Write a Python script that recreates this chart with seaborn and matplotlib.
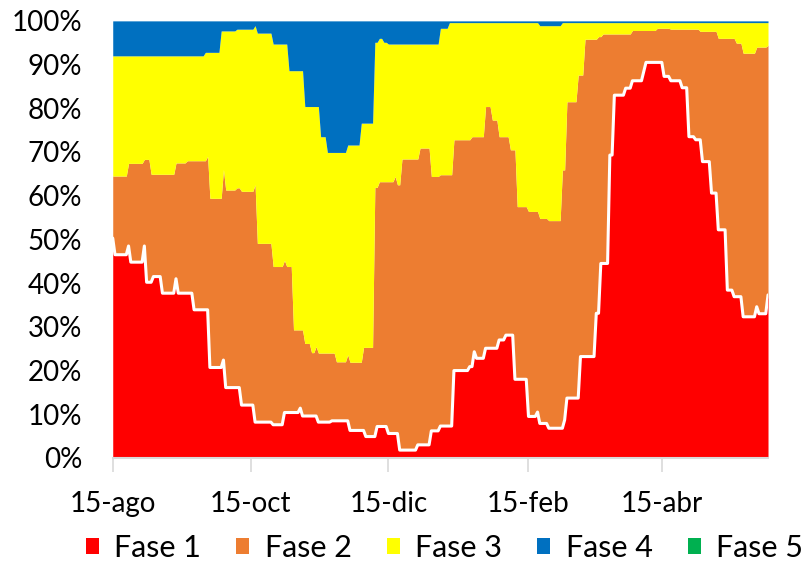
import numpy as np
import pandas as pd
import matplotlib.pyplot as plt
from matplotlib.patches import Patch
import seaborn as sns

# daily series from 15-ago-2020, 291 days
start = "2020-08-15"
n_days = 291

# step levels: day offset where a level starts, cumulative %
top1_days = [0, 1, 7, 8, 14, 15, 18, 22, 28, 29, 36, 43, 49, 50, 57, 63, 71, 76, 83, 84,
             91, 97, 105, 112, 117, 122, 127, 135, 141, 145, 151, 158, 160, 161, 165, 171,
             174, 178, 184, 188, 189, 193, 200, 201, 207, 214, 216, 220, 222, 227, 230,
             235, 236, 244, 247, 252, 255, 258, 261, 265, 268, 272, 275, 279, 285, 286, 290]
top1_vals = [50.3, 46.5, 48.5, 44.8, 48.5, 40.2, 41.5, 37.7, 41.0, 37.7, 33.9, 20.7, 22.4,
             16.1, 12.1, 8.2, 7.6, 10.4, 11.4, 9.6, 8.2, 8.5, 6.3, 4.9, 7.2, 5.6, 1.8, 3.0,
             6.2, 7.3, 20.0, 20.9, 24.3, 22.8, 25.1, 27.0, 28.1, 18.0, 9.5, 10.5, 7.9, 6.8,
             8.7, 13.7, 23.2, 33.1, 44.5, 69.3, 83.0, 84.6, 86.3, 88.4, 90.5, 87.3, 86.3,
             84.7, 73.5, 72.8, 67.8, 60.6, 52.2, 38.4, 36.9, 32.3, 34.6, 33.0, 37.3]

top2_days = [0, 7, 14, 17, 28, 33, 42, 43, 49, 50, 55, 57, 63, 64, 71, 76, 77, 80, 85, 88,
             90, 91, 99, 104, 105, 111, 116, 118, 125, 126, 128, 136, 141, 145, 151, 159,
             165, 168, 171, 176, 179, 184, 189, 193, 199, 201, 206, 209, 215, 217, 230, 241,
             247, 260, 268, 276, 279, 285, 290]
top2_vals = [64.5, 67.4, 68.3, 64.9, 67.5, 68.0, 69.0, 59.4, 66.0, 61.3, 61.8, 61.0, 62.5,
             49.1, 43.8, 45.2, 43.8, 29.3, 26.2, 24.1, 25.5, 24.0, 22.0, 23.6, 21.9, 25.3,
             61.9, 63.2, 64.4, 62.5, 68.4, 70.9, 64.4, 64.8, 72.8, 73.5, 80.4, 77.3, 73.5,
             70.5, 57.5, 56.4, 54.8, 54.3, 65.9, 81.5, 87.6, 95.8, 96.4, 97.0, 97.8, 98.3,
             98.1, 97.6, 96.0, 94.9, 92.6, 94.0, 94.4]

top3_days = [0, 41, 48, 55, 63, 64, 71, 78, 85, 92, 95, 104, 110, 116, 118, 120, 122, 145,
             149, 189, 199]
top3_vals = [92.0, 92.8, 97.7, 98.1, 98.9, 97.2, 94.7, 88.6, 80.4, 73.5, 69.9, 71.6, 76.6,
             95.1, 96.0, 95.1, 94.7, 98.3, 99.6, 98.9, 99.6]

tick_dates = ["2020-08-15", "2020-10-15", "2020-12-15", "2021-02-15", "2021-04-15"]
tick_labels = ["15-ago", "15-oct", "15-dic", "15-feb", "15-abr"]
phases = ["Fase 1", "Fase 2", "Fase 3", "Fase 4", "Fase 5"]
colors = ["#FF0000", "#ED7D31", "#FFFF00", "#0070C0", "#00B050"]


def expand(days, vals):
    s = pd.Series(np.nan, index=range(n_days))
    s[days] = vals
    return s.ffill().to_numpy()


dates = pd.date_range(start, periods=n_days)
t1 = expand(top1_days, top1_vals)
t2 = expand(top2_days, top2_vals)
t3 = expand(top3_days, top3_vals)
fase1 = t1
fase2 = t2 - t1
fase3 = t3 - t2
fase4 = 100 - t3
fase5 = np.zeros(n_days)

sns.set_theme(style="white")
plt.rcParams["font.family"] = ["Lato", "DejaVu Sans"]
plt.rcParams["text.color"] = "black"

fig = plt.figure(figsize=(8.11, 5.64), dpi=100)
ax = fig.add_axes([0.139, 0.188, 0.808, 0.775])

ax.stackplot(dates, fase1, fase2, fase3, fase4, fase5, colors=colors, linewidth=0,
             antialiased=False)
sns.lineplot(x=dates, y=fase1, color="white", linewidth=2.2, ax=ax)

ax.set_xlim(dates[0], dates[-1])
ax.set_ylim(0, 100)
ax.set_yticks(range(0, 101, 10))
ax.set_yticklabels([f"{v}%" for v in range(0, 101, 10)], fontsize=20)
ax.set_xticks(pd.to_datetime(tick_dates))
ax.set_xticklabels(tick_labels, fontsize=20)
ax.tick_params(axis="x", direction="out", length=10, width=1.2, color="#d9d9d9",
               labelcolor="black", pad=14, bottom=True)
ax.tick_params(axis="y", length=0, pad=22, labelcolor="black")
ax.set_xlabel("")
ax.set_ylabel("")
for side in ["top", "right", "left"]:
    ax.spines[side].set_visible(False)
ax.spines["bottom"].set_color("#d9d9d9")
ax.spines["bottom"].set_linewidth(1.5)
ax.grid(False)

handles = [Patch(facecolor=c, edgecolor="none", label=p) for c, p in zip(colors, phases)]
fig.legend(handles=handles, loc="lower center", bbox_to_anchor=(0.548, -0.045), ncol=5,
           frameon=False, handlelength=0.43, handleheight=0.46, handletextpad=0.5,
           columnspacing=1.15, prop={"size": 22})

fig.savefig("out.png", dpi=100)
